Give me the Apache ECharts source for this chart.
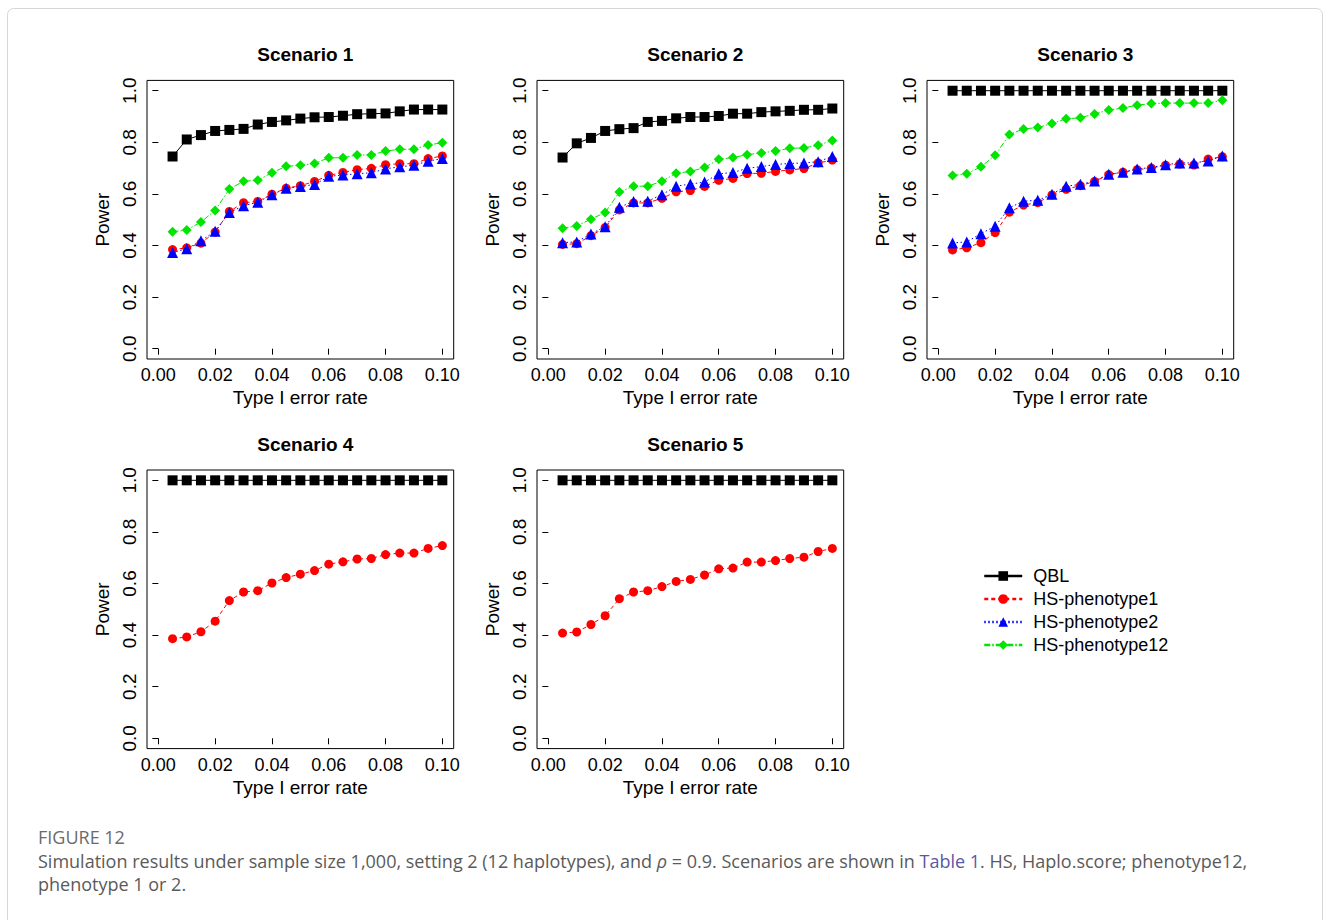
<!DOCTYPE html>
<html>
<head>
<meta charset="utf-8">
<title>Power by Type I error rate</title>
<script src="https://cdn.jsdelivr.net/npm/echarts@6/dist/echarts.min.js"></script>
<style>
  html, body { margin: 0; padding: 0; background: #fff; }
  #chart { width: 1330px; height: 920px; }
</style>
</head>
<body>
<div id="chart"></div>
<script>
// Nominal type I error levels (x) shared by every scenario
const alphaLevels = [0.005, 0.010, 0.015, 0.020, 0.025, 0.030, 0.035, 0.040, 0.045, 0.050,
                     0.055, 0.060, 0.065, 0.070, 0.075, 0.080, 0.085, 0.090, 0.095, 0.100];

const xTickValues = [0, 0.02, 0.04, 0.06, 0.08, 0.10];
const xTickLabels = ['0.00', '0.02', '0.04', '0.06', '0.08', '0.10'];
const yTickValues = [0, 0.2, 0.4, 0.6, 0.8, 1.0];
const yTickLabels = ['0.0', '0.2', '0.4', '0.6', '0.8', '1.0'];

const methodNames = ['QBL', 'HS-phenotype1', 'HS-phenotype2', 'HS-phenotype12'];
const scenarioTitles = ['Scenario 1', 'Scenario 2', 'Scenario 3', 'Scenario 4', 'Scenario 5'];

// Scenario 1
const s1Qbl  = [0.745, 0.811, 0.828, 0.844, 0.848, 0.852, 0.869, 0.879, 0.885, 0.892, 0.897, 0.898, 0.903, 0.909, 0.911, 0.912, 0.920, 0.927, 0.927, 0.927];
const s1Hs1  = [0.384, 0.391, 0.409, 0.452, 0.532, 0.566, 0.571, 0.599, 0.622, 0.632, 0.648, 0.672, 0.683, 0.694, 0.699, 0.713, 0.717, 0.717, 0.737, 0.747];
const s1Hs2  = [0.373, 0.387, 0.418, 0.455, 0.528, 0.554, 0.568, 0.597, 0.622, 0.629, 0.636, 0.668, 0.673, 0.678, 0.682, 0.697, 0.705, 0.711, 0.727, 0.737];
const s1Hs12 = [0.453, 0.460, 0.491, 0.536, 0.619, 0.649, 0.653, 0.682, 0.707, 0.711, 0.718, 0.740, 0.740, 0.751, 0.751, 0.766, 0.773, 0.773, 0.790, 0.798];

// Scenario 2
const s2Qbl  = [0.741, 0.796, 0.817, 0.844, 0.851, 0.855, 0.879, 0.883, 0.893, 0.898, 0.898, 0.902, 0.911, 0.911, 0.917, 0.920, 0.922, 0.926, 0.926, 0.931];
const s2Hs1  = [0.404, 0.407, 0.438, 0.470, 0.538, 0.565, 0.565, 0.583, 0.608, 0.613, 0.629, 0.653, 0.660, 0.679, 0.680, 0.687, 0.693, 0.698, 0.720, 0.731];
const s2Hs2  = [0.411, 0.414, 0.445, 0.473, 0.548, 0.571, 0.572, 0.597, 0.630, 0.638, 0.646, 0.678, 0.683, 0.699, 0.706, 0.714, 0.718, 0.720, 0.725, 0.745];
const s2Hs12 = [0.467, 0.476, 0.502, 0.528, 0.607, 0.630, 0.630, 0.649, 0.680, 0.687, 0.702, 0.734, 0.741, 0.752, 0.759, 0.766, 0.777, 0.778, 0.789, 0.807];

// Scenario 3
const s3Qbl  = [1, 1, 1, 1, 1, 1, 1, 1, 1, 1, 1, 1, 1, 1, 1, 1, 1, 1, 1, 1];
const s3Hs1  = [0.383, 0.391, 0.411, 0.450, 0.529, 0.557, 0.566, 0.596, 0.618, 0.632, 0.648, 0.675, 0.684, 0.694, 0.700, 0.711, 0.716, 0.712, 0.735, 0.744];
const s3Hs2  = [0.410, 0.414, 0.446, 0.475, 0.546, 0.572, 0.575, 0.599, 0.630, 0.637, 0.650, 0.676, 0.684, 0.697, 0.702, 0.713, 0.720, 0.720, 0.728, 0.747];
const s3Hs12 = [0.671, 0.678, 0.705, 0.750, 0.830, 0.852, 0.857, 0.873, 0.891, 0.895, 0.910, 0.925, 0.933, 0.944, 0.950, 0.952, 0.952, 0.952, 0.952, 0.963];

// Scenario 4
const s4Qbl  = [1, 1, 1, 1, 1, 1, 1, 1, 1, 1, 1, 1, 1, 1, 1, 1, 1, 1, 1, 1];
const s4Hs1  = [0.386, 0.393, 0.413, 0.454, 0.534, 0.567, 0.572, 0.602, 0.623, 0.636, 0.650, 0.675, 0.684, 0.695, 0.697, 0.712, 0.718, 0.718, 0.736, 0.747];

// Scenario 5
const s5Qbl  = [1, 1, 1, 1, 1, 1, 1, 1, 1, 1, 1, 1, 1, 1, 1, 1, 1, 1, 1, 1];
const s5Hs1  = [0.408, 0.412, 0.441, 0.475, 0.541, 0.567, 0.572, 0.588, 0.608, 0.616, 0.633, 0.657, 0.660, 0.683, 0.683, 0.689, 0.697, 0.702, 0.724, 0.736];

// Per-panel series (null = method not drawn in that panel)
const panelSeries = [
  [s1Qbl, s1Hs1, s1Hs2, s1Hs12],
  [s2Qbl, s2Hs1, s2Hs2, s2Hs12],
  [s3Qbl, s3Hs1, s3Hs2, s3Hs12],
  [s4Qbl, s4Hs1, null, null],
  [s5Qbl, s5Hs1, null, null]
];

// ---- styling ----
const FONT = '"Liberation Sans", Arial, Helvetica, sans-serif';
const CAPTION_FONT = '"Open Sans", "Noto Sans", sans-serif';
const X_MIN = -0.004, X_MAX = 0.104;   // 4% padding around [0, 0.1]
const Y_MIN = -0.04,  Y_MAX = 1.04;    // 4% padding around [0, 1]

const methodStyles = [
  { color: '#000000', symbol: 'rect',     size: 10, dash: 'solid' },
  { color: '#ff0000', symbol: 'circle',   size: 9,  dash: [4, 3] },
  { color: '#0000ff', symbol: 'triangle', size: 11, dash: [1.5, 2.5] },
  { color: '#00e400', symbol: 'diamond',  size: 10, dash: [6, 2, 1.5, 2] }
];

const panelBoxes = [
  { left: 147, top: 80.4 },
  { left: 537, top: 80.4 },
  { left: 927, top: 80.4 },
  { left: 147, top: 470 },
  { left: 537, top: 470 }
];
const BOX_W = 306.7, BOX_H = 278.6;

function labelFor(values, labels, v) {
  let best = 0;
  for (let i = 1; i < values.length; i++) {
    if (Math.abs(values[i] - v) < Math.abs(values[best] - v)) best = i;
  }
  return labels[best];
}

const grids = [], xAxes = [], yAxes = [], titles = [], series = [];

panelBoxes.forEach((b, i) => {
  grids.push({
    left: b.left, top: b.top, width: BOX_W, height: BOX_H,
    show: true, borderColor: '#000', borderWidth: 1, backgroundColor: '#fff'
  });
  xAxes.push({
    gridIndex: i, type: 'value', min: X_MIN, max: X_MAX,
    axisLine: { show: false },
    splitLine: { show: false },
    axisTick: { show: true, inside: false, length: 6, customValues: xTickValues,
                lineStyle: { color: '#000', width: 1 } },
    axisLabel: { customValues: xTickValues, margin: 7, color: '#000', fontSize: 18, fontFamily: FONT,
                 formatter: v => labelFor(xTickValues, xTickLabels, v) },
    name: 'Type I error rate', nameLocation: 'middle', nameGap: 29,
    nameTextStyle: { color: '#000', fontSize: 19, fontFamily: FONT }
  });
  yAxes.push({
    gridIndex: i, type: 'value', min: Y_MIN, max: Y_MAX,
    axisLine: { show: false },
    splitLine: { show: false },
    axisTick: { show: true, inside: false, length: 6, customValues: yTickValues,
                lineStyle: { color: '#000', width: 1 } },
    axisLabel: { customValues: yTickValues, margin: 8, rotate: 90, color: '#000', fontSize: 19, fontFamily: FONT,
                 formatter: v => labelFor(yTickValues, yTickLabels, v) },
    name: 'Power', nameLocation: 'middle', nameGap: 35, nameRotate: 90,
    nameTextStyle: { color: '#000', fontSize: 19, fontFamily: FONT }
  });
  titles.push({
    text: scenarioTitles[i],
    left: b.left + BOX_W / 2, top: b.top - 40, textAlign: 'center',
    textStyle: { color: '#000', fontSize: 19, fontWeight: 'bold', fontFamily: FONT }
  });
  panelSeries[i].forEach((vals, m) => {
    if (!vals) return;
    const st = methodStyles[m];
    series.push({
      type: 'line', name: methodNames[m],
      xAxisIndex: i, yAxisIndex: i,
      data: alphaLevels.map((x, k) => [x, vals[k]]),
      symbol: st.symbol, symbolSize: st.size, showSymbol: true,
      lineStyle: { color: st.color, width: 1, type: st.dash },
      itemStyle: { color: st.color, borderWidth: 0 },
      emphasis: { disabled: true },
      z: 2 + m,
      animation: false
    });
  });
});

const option = {
  backgroundColor: '#fff',
  animation: false,
  title: titles,
  grid: grids,
  xAxis: xAxes,
  yAxis: yAxes,
  legend: {
    data: methodNames,
    orient: 'vertical',
    left: 978, top: 561,
    itemWidth: 38, itemHeight: 12, itemGap: 3,
    lineStyle: { width: 2.5 },
    selectedMode: false,
    textStyle: { color: '#000', fontSize: 18, fontFamily: FONT, lineHeight: 20, padding: [0, 0, 0, 6] }
  },
  series: series,
  graphic: [
    {
      type: 'rect', silent: true, z: -10,
      shape: { x: 7.5, y: 8.5, width: 1315, height: 940, r: 6 },
      style: { fill: 'none', stroke: '#d6d6d6', lineWidth: 1 }
    },
    {
      type: 'text', left: 38, top: 828, silent: true,
      style: { text: 'FIGURE 12', fill: '#6b6b6b', font: '500 18px "Open Sans", "Noto Sans", sans-serif' }
    },
    {
      type: 'text', left: 38, top: 852, silent: true,
      style: {
        text: '{t|Simulation results under sample size 1,000, setting 2 (12 haplotypes), and }{i|ρ}{t| = 0.9. Scenarios are shown in }{l|Table 1}{t|. HS, Haplo.score; phenotype12,}\n{t|phenotype 1 or 2.}',
        rich: {
          t: { fill: '#5a5a5a', fontSize: 18, fontFamily: CAPTION_FONT, lineHeight: 22.5 },
          i: { fill: '#5a5a5a', fontSize: 18, fontStyle: 'italic', fontFamily: CAPTION_FONT, lineHeight: 22.5 },
          l: { fill: '#5b57a6', fontSize: 18, fontFamily: CAPTION_FONT, lineHeight: 22.5 }
        }
      }
    }
  ]
};

const chart = echarts.init(document.getElementById('chart'), null, { renderer: 'svg' });
chart.setOption(option);
</script>
</body>
</html>
